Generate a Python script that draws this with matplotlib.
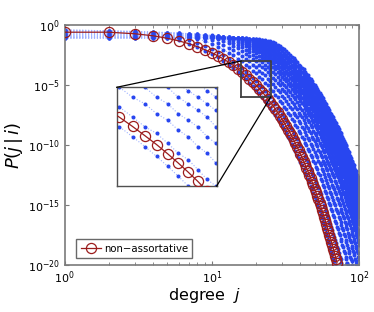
import matplotlib
matplotlib.use("Agg")
import matplotlib.pyplot as plt
from matplotlib.lines import Line2D

# ---- data (log10 of P(j|i)), j = 1, 2, 3, ... for each list ----
# non-assortative case
red_log = [-0.60, -0.60, -0.73, -0.90, -1.11, -1.33, -1.56, -1.81, -2.06, -2.31,
           -2.57, -2.83, -3.10, -3.37, -3.64, -3.91, -4.19, -4.47, -4.74, -5.02,
           -5.30, -5.58, -5.86, -6.15, -6.43, -6.71, -7.00, -7.28, -7.57, -7.86,
           -8.14, -8.43, -8.72, -9.00, -9.29, -9.58, -9.87, -10.16, -10.45, -10.74,
           -11.03, -11.32, -11.61, -11.90, -12.19, -12.49, -12.78, -13.07, -13.36, -13.65,
           -13.95, -14.24, -14.53, -14.82, -15.12, -15.41, -15.70, -16.00, -16.29, -16.58,
           -16.88, -17.17, -17.47, -17.76, -18.05, -18.35, -18.64, -18.94, -19.23, -19.53,
           -19.82]

# assortative family (one list per curve)
blue_s0 = [-0.40, -0.49, -0.62, -0.80, -1.02, -1.27, -1.55, -1.83, -2.13, -2.42, -2.7, -3.0, -3.3, -3.6, -3.9, -4.2, -4.5, -4.8, -5.1, -5.4, -5.7, -6.0, -6.3, -6.6, -6.9, -7.2, -7.5, -7.8, -8.1, -8.4, -8.7, -9.0, -9.3, -9.6, -9.9, -10.2, -10.5, -10.8, -11.1, -11.4, -11.7, -12.0, -12.3, -12.5, -12.8, -13.1, -13.4, -13.7, -14.0, -14.3, -14.6, -14.9, -15.2, -15.5, -15.8, -16.1, -16.4, -16.7, -17.0, -17.3, -17.6, -17.9, -18.2, -18.5, -18.8, -19.1, -19.4, -19.7, -20.0]
blue_s1 = [-0.43, -0.48, -0.56, -0.67, -0.83, -1.02, -1.24, -1.49, -1.74, -2.00, -2.27, -2.5, -2.8, -3.1, -3.3, -3.6, -3.9, -4.2, -4.4, -4.7, -5.0, -5.2, -5.5, -5.8, -6.0, -6.3, -6.6, -6.9, -7.1, -7.4, -7.7, -7.9, -8.2, -8.5, -8.7, -9.0, -9.3, -9.5, -9.8, -10.1, -10.4, -10.6, -10.9, -11.2, -11.4, -11.7, -12.0, -12.3, -12.5, -12.8, -13.1, -13.3, -13.6, -13.9, -14.1, -14.4, -14.7, -15.0, -15.2, -15.5, -15.8, -16.0, -16.3, -16.6, -16.8, -17.1, -17.4, -17.7, -17.9, -18.2, -18.5, -18.7, -19.0, -19.3, -19.5, -19.8, -20.1]
blue_s2 = [-0.47, -0.49, -0.53, -0.59, -0.67, -0.79, -0.95, -1.14, -1.35, -1.57, -1.81, -2.05, -2.30, -2.5, -2.8, -3.0, -3.3, -3.5, -3.8, -4.0, -4.3, -4.5, -4.8, -5.0, -5.3, -5.5, -5.8, -6.0, -6.3, -6.5, -6.8, -7.0, -7.3, -7.5, -7.8, -8.0, -8.3, -8.5, -8.8, -9.0, -9.3, -9.5, -9.8, -10.0, -10.3, -10.5, -10.8, -11.0, -11.3, -11.5, -11.8, -12.0, -12.3, -12.5, -12.8, -13.0, -13.3, -13.5, -13.8, -14.0, -14.3, -14.5, -14.8, -15.0, -15.3, -15.5, -15.8, -16.0, -16.3, -16.5, -16.8, -17.0, -17.3, -17.5, -17.8, -18.0, -18.3, -18.5, -18.8, -19.0, -19.3, -19.5, -19.8, -20.0]
blue_s3 = [-0.53, -0.54, -0.55, -0.58, -0.63, -0.69, -0.79, -0.92, -1.07, -1.25, -1.46, -1.67, -1.89, -2.12, -2.35, -2.58, -2.8, -3.0, -3.3, -3.5, -3.8, -4.0, -4.2, -4.5, -4.7, -4.9, -5.2, -5.4, -5.6, -5.9, -6.1, -6.3, -6.6, -6.8, -7.0, -7.3, -7.5, -7.7, -8.0, -8.2, -8.5, -8.7, -8.9, -9.2, -9.4, -9.6, -9.9, -10.1, -10.3, -10.6, -10.8, -11.0, -11.3, -11.5, -11.7, -12.0, -12.2, -12.4, -12.7, -12.9, -13.2, -13.4, -13.6, -13.9, -14.1, -14.3, -14.6, -14.8, -15.0, -15.3, -15.5, -15.7, -16.0, -16.2, -16.4, -16.7, -16.9, -17.1, -17.4, -17.6, -17.9, -18.1, -18.3, -18.6, -18.8, -19.0, -19.3, -19.5, -19.7, -20.0, -20.2]
blue_s4 = [-0.59, -0.59, -0.60, -0.61, -0.64, -0.67, -0.72, -0.79, -0.89, -1.02, -1.17, -1.35, -1.54, -1.74, -1.95, -2.17, -2.39, -2.60, -2.8, -3.0, -3.3, -3.5, -3.7, -3.9, -4.2, -4.4, -4.6, -4.8, -5.0, -5.3, -5.5, -5.7, -5.9, -6.2, -6.4, -6.6, -6.8, -7.0, -7.3, -7.5, -7.7, -7.9, -8.2, -8.4, -8.6, -8.8, -9.0, -9.3, -9.5, -9.7, -9.9, -10.1, -10.4, -10.6, -10.8, -11.0, -11.3, -11.5, -11.7, -11.9, -12.1, -12.4, -12.6, -12.8, -13.0, -13.3, -13.5, -13.7, -13.9, -14.1, -14.4, -14.6, -14.8, -15.0, -15.3, -15.5, -15.7, -15.9, -16.1, -16.4, -16.6, -16.8, -17.0, -17.3, -17.5, -17.7, -17.9, -18.1, -18.4, -18.6, -18.8, -19.0, -19.2, -19.5, -19.7, -19.9, -20.1]
blue_s5 = [-0.65, -0.66, -0.66, -0.67, -0.68, -0.70, -0.73, -0.77, -0.83, -0.91, -1.02, -1.15, -1.31, -1.48, -1.66, -1.86, -2.05, -2.26, -2.46, -2.67, -2.9, -3.1, -3.3, -3.5, -3.7, -3.9, -4.1, -4.3, -4.6, -4.8, -5.0, -5.2, -5.4, -5.6, -5.8, -6.0, -6.2, -6.4, -6.7, -6.9, -7.1, -7.3, -7.5, -7.7, -7.9, -8.1, -8.3, -8.5, -8.8, -9.0, -9.2, -9.4, -9.6, -9.8, -10.0, -10.2, -10.4, -10.6, -10.9, -11.1, -11.3, -11.5, -11.7, -11.9, -12.1, -12.3, -12.5, -12.7, -13.0, -13.2, -13.4, -13.6, -13.8, -14.0, -14.2, -14.4, -14.6, -14.8, -15.1, -15.3, -15.5, -15.7, -15.9, -16.1, -16.3, -16.5, -16.7, -16.9, -17.2, -17.4, -17.6, -17.8, -18.0, -18.2, -18.4, -18.6, -18.8, -19.0, -19.3, -19.5]
blue_s6 = [-0.72, -0.72, -0.73, -0.73, -0.74, -0.75, -0.76, -0.79, -0.82, -0.87, -0.94, -1.03, -1.15, -1.28, -1.43, -1.60, -1.78, -1.97, -2.16, -2.35, -2.55, -2.74, -2.9, -3.1, -3.3, -3.5, -3.7, -3.9, -4.1, -4.3, -4.5, -4.7, -4.9, -5.1, -5.3, -5.5, -5.7, -5.9, -6.1, -6.3, -6.5, -6.7, -6.9, -7.1, -7.3, -7.5, -7.7, -7.9, -8.1, -8.3, -8.5, -8.7, -8.9, -9.1, -9.3, -9.5, -9.7, -9.9, -10.1, -10.3, -10.5, -10.7, -10.9, -11.1, -11.3, -11.5, -11.7, -11.9, -12.1, -12.3, -12.5, -12.7, -12.9, -13.1, -13.3, -13.5, -13.7, -13.9, -14.1, -14.3, -14.5, -14.7, -14.9, -15.1, -15.3, -15.5, -15.7, -15.9, -16.1, -16.3, -16.5, -16.7, -16.9, -17.1, -17.3, -17.5, -17.7, -17.9, -18.1, -18.3]
blue_s7 = [-0.79, -0.79, -0.79, -0.80, -0.80, -0.81, -0.82, -0.83, -0.85, -0.88, -0.93, -0.98, -1.07, -1.16, -1.28, -1.42, -1.58, -1.74, -1.92, -2.10, -2.28, -2.47, -2.66, -2.85, -3.0, -3.2, -3.4, -3.6, -3.8, -4.0, -4.2, -4.4, -4.6, -4.8, -5.0, -5.1, -5.3, -5.5, -5.7, -5.9, -6.1, -6.3, -6.5, -6.7, -6.9, -7.1, -7.3, -7.5, -7.6, -7.8, -8.0, -8.2, -8.4, -8.6, -8.8, -9.0, -9.2, -9.4, -9.6, -9.8, -9.9, -10.1, -10.3, -10.5, -10.7, -10.9, -11.1, -11.3, -11.5, -11.7, -11.9, -12.1, -12.3, -12.4, -12.6, -12.8, -13.0, -13.2, -13.4, -13.6, -13.8, -14.0, -14.2, -14.4, -14.6, -14.7, -14.9, -15.1, -15.3, -15.5, -15.7, -15.9, -16.1, -16.3, -16.5, -16.7, -16.9, -17.1, -17.2, -17.4]
blue_s8 = [-0.85, -0.85, -0.85, -0.85, -0.86, -0.86, -0.87, -0.88, -0.89, -0.91, -0.93, -0.97, -1.02, -1.09, -1.18, -1.29, -1.41, -1.56, -1.71, -1.87, -2.05, -2.22, -2.40, -2.58, -2.77, -2.94, -3.1, -3.3, -3.5, -3.7, -3.9, -4.0, -4.2, -4.4, -4.6, -4.8, -5.0, -5.2, -5.3, -5.5, -5.7, -5.9, -6.1, -6.3, -6.5, -6.6, -6.8, -7.0, -7.2, -7.4, -7.6, -7.7, -7.9, -8.1, -8.3, -8.5, -8.7, -8.9, -9.0, -9.2, -9.4, -9.6, -9.8, -10.0, -10.2, -10.3, -10.5, -10.7, -10.9, -11.1, -11.3, -11.4, -11.6, -11.8, -12.0, -12.2, -12.4, -12.6, -12.7, -12.9, -13.1, -13.3, -13.5, -13.7, -13.9, -14.0, -14.2, -14.4, -14.6, -14.8, -15.0, -15.1, -15.3, -15.5, -15.7, -15.9, -16.1, -16.3, -16.4, -16.6]
blue_s9 = [-0.90, -0.90, -0.90, -0.90, -0.90, -0.91, -0.91, -0.92, -0.92, -0.94, -0.95, -0.98, -1.01, -1.06, -1.12, -1.20, -1.30, -1.42, -1.55, -1.70, -1.85, -2.02, -2.18, -2.36, -2.53, -2.71, -2.89, -3.1, -3.2, -3.4, -3.6, -3.8, -4.0, -4.1, -4.3, -4.5, -4.7, -4.9, -5.0, -5.2, -5.4, -5.6, -5.8, -5.9, -6.1, -6.3, -6.5, -6.7, -6.8, -7.0, -7.2, -7.4, -7.6, -7.7, -7.9, -8.1, -8.3, -8.5, -8.6, -8.8, -9.0, -9.2, -9.4, -9.5, -9.7, -9.9, -10.1, -10.3, -10.4, -10.6, -10.8, -11.0, -11.2, -11.3, -11.5, -11.7, -11.9, -12.1, -12.2, -12.4, -12.6, -12.8, -13.0, -13.1, -13.3, -13.5, -13.7, -13.9, -14.0, -14.2, -14.4, -14.6, -14.8, -14.9, -15.1, -15.3, -15.5, -15.7, -15.8, -16.0]
blue_s10 = [-0.95, -0.95, -0.95, -0.95, -0.95, -0.95, -0.96, -0.96, -0.97, -0.97, -0.98, -1.00, -1.02, -1.05, -1.10, -1.15, -1.23, -1.32, -1.43, -1.55, -1.69, -1.83, -1.99, -2.15, -2.32, -2.48, -2.66, -2.83, -3.00, -3.2, -3.3, -3.5, -3.7, -3.9, -4.0, -4.2, -4.4, -4.6, -4.7, -4.9, -5.1, -5.3, -5.4, -5.6, -5.8, -6.0, -6.1, -6.3, -6.5, -6.7, -6.8, -7.0, -7.2, -7.4, -7.5, -7.7, -7.9, -8.1, -8.2, -8.4, -8.6, -8.8, -8.9, -9.1, -9.3, -9.5, -9.6, -9.8, -10.0, -10.2, -10.3, -10.5, -10.7, -10.9, -11.0, -11.2, -11.4, -11.6, -11.7, -11.9, -12.1, -12.3, -12.4, -12.6, -12.8, -13.0, -13.1, -13.3, -13.5, -13.7, -13.8, -14.0, -14.2, -14.4, -14.5, -14.7, -14.9, -15.1, -15.2, -15.4]
blue_s11 = [-0.99, -0.99, -0.99, -0.99, -0.99, -0.99, -0.99, -1.00, -1.00, -1.00, -1.01, -1.02, -1.04, -1.06, -1.08, -1.12, -1.18, -1.24, -1.33, -1.43, -1.54, -1.67, -1.81, -1.96, -2.12, -2.28, -2.45, -2.61, -2.78, -2.95, -3.11, -3.3, -3.5, -3.6, -3.8, -4.0, -4.1, -4.3, -4.5, -4.6, -4.8, -5.0, -5.2, -5.3, -5.5, -5.7, -5.8, -6.0, -6.2, -6.4, -6.5, -6.7, -6.9, -7.0, -7.2, -7.4, -7.6, -7.7, -7.9, -8.1, -8.2, -8.4, -8.6, -8.8, -8.9, -9.1, -9.3, -9.4, -9.6, -9.8, -10.0, -10.1, -10.3, -10.5, -10.6, -10.8, -11.0, -11.1, -11.3, -11.5, -11.7, -11.8, -12.0, -12.2, -12.3, -12.5, -12.7, -12.9, -13.0, -13.2, -13.4, -13.5, -13.7, -13.9, -14.1, -14.2, -14.4, -14.6, -14.7, -14.9]
blue_s12 = [-1.03, -1.03, -1.03, -1.03, -1.03, -1.03, -1.03, -1.03, -1.04, -1.04, -1.04, -1.05, -1.06, -1.07, -1.09, -1.11, -1.15, -1.19, -1.25, -1.33, -1.42, -1.53, -1.65, -1.78, -1.93, -2.08, -2.24, -2.39, -2.55, -2.72, -2.89, -3.05, -3.2, -3.4, -3.5, -3.7, -3.9, -4.1, -4.2, -4.4, -4.6, -4.7, -4.9, -5.1, -5.2, -5.4, -5.6, -5.7, -5.9, -6.1, -6.2, -6.4, -6.6, -6.7, -6.9, -7.1, -7.2, -7.4, -7.6, -7.7, -7.9, -8.1, -8.3, -8.4, -8.6, -8.8, -8.9, -9.1, -9.3, -9.4, -9.6, -9.8, -9.9, -10.1, -10.3, -10.4, -10.6, -10.8, -10.9, -11.1, -11.3, -11.4, -11.6, -11.8, -11.9, -12.1, -12.3, -12.5, -12.6, -12.8, -13.0, -13.1, -13.3, -13.5, -13.6, -13.8, -14.0, -14.1, -14.3, -14.5]
blue_s13 = [-1.06, -1.06, -1.06, -1.06, -1.06, -1.06, -1.06, -1.06, -1.06, -1.07, -1.07, -1.07, -1.08, -1.08, -1.09, -1.11, -1.13, -1.16, -1.20, -1.25, -1.31, -1.40, -1.49, -1.61, -1.73, -1.86, -2.00, -2.15, -2.31, -2.47, -2.62, -2.79, -2.95, -3.11, -3.3, -3.4, -3.6, -3.8, -3.9, -4.1, -4.3, -4.4, -4.6, -4.8, -4.9, -5.1, -5.3, -5.4, -5.6, -5.7, -5.9, -6.1, -6.2, -6.4, -6.6, -6.7, -6.9, -7.1, -7.2, -7.4, -7.6, -7.7, -7.9, -8.1, -8.2, -8.4, -8.6, -8.7, -8.9, -9.0, -9.2, -9.4, -9.5, -9.7, -9.9, -10.0, -10.2, -10.4, -10.5, -10.7, -10.9, -11.0, -11.2, -11.4, -11.5, -11.7, -11.9, -12.0, -12.2, -12.3, -12.5, -12.7, -12.8, -13.0, -13.2, -13.3, -13.5, -13.7, -13.8, -14.0]
blue_s14 = [-1.08, -1.08, -1.08, -1.08, -1.08, -1.08, -1.08, -1.08, -1.08, -1.08, -1.08, -1.09, -1.09, -1.09, -1.10, -1.11, -1.12, -1.14, -1.16, -1.19, -1.23, -1.28, -1.35, -1.43, -1.53, -1.64, -1.76, -1.90, -2.04, -2.19, -2.34, -2.49, -2.65, -2.81, -2.97, -3.12, -3.3, -3.4, -3.6, -3.8, -3.9, -4.1, -4.3, -4.4, -4.6, -4.7, -4.9, -5.1, -5.2, -5.4, -5.6, -5.7, -5.9, -6.0, -6.2, -6.4, -6.5, -6.7, -6.8, -7.0, -7.2, -7.3, -7.5, -7.7, -7.8, -8.0, -8.1, -8.3, -8.5, -8.6, -8.8, -9.0, -9.1, -9.3, -9.4, -9.6, -9.8, -9.9, -10.1, -10.2, -10.4, -10.6, -10.7, -10.9, -11.1, -11.2, -11.4, -11.5, -11.7, -11.9, -12.0, -12.2, -12.4, -12.5, -12.7, -12.8, -13.0, -13.2, -13.3, -13.5]
blue_s15 = [-1.10, -1.10, -1.10, -1.10, -1.10, -1.10, -1.10, -1.10, -1.10, -1.10, -1.10, -1.10, -1.10, -1.11, -1.11, -1.11, -1.12, -1.13, -1.14, -1.15, -1.18, -1.21, -1.25, -1.30, -1.36, -1.44, -1.54, -1.65, -1.77, -1.90, -2.03, -2.18, -2.33, -2.48, -2.63, -2.79, -2.95, -3.10, -3.3, -3.4, -3.6, -3.7, -3.9, -4.1, -4.2, -4.4, -4.5, -4.7, -4.9, -5.0, -5.2, -5.3, -5.5, -5.7, -5.8, -6.0, -6.1, -6.3, -6.5, -6.6, -6.8, -6.9, -7.1, -7.3, -7.4, -7.6, -7.7, -7.9, -8.1, -8.2, -8.4, -8.5, -8.7, -8.9, -9.0, -9.2, -9.3, -9.5, -9.7, -9.8, -10.0, -10.1, -10.3, -10.5, -10.6, -10.8, -10.9, -11.1, -11.3, -11.4, -11.6, -11.7, -11.9, -12.1, -12.2, -12.4, -12.5, -12.7, -12.9, -13.0]
blue_family = [blue_s0, blue_s1, blue_s2, blue_s3, blue_s4, blue_s5, blue_s6, blue_s7,
               blue_s8, blue_s9, blue_s10, blue_s11, blue_s12, blue_s13, blue_s14, blue_s15]

legend_label = "non\u2212assortative"
yticks = [1e-20, 1e-15, 1e-10, 1e-5, 1e0]

RED = "#9b1c1c"
BLUE = "#2846f0"
LBLUE = "#9fb2ff"
GRAY = "#7a7a7a"

fig = plt.figure(figsize=(3.74, 3.12), dpi=100)
W, H = 374, 312
ax = fig.add_axes([64.5 / W, 1 - 265 / H, 294.5 / W, 240 / H])


def draw(a):
    for serie in blue_family:
        jj = list(range(1, len(serie) + 1))
        a.plot(jj, [10 ** v for v in serie], linestyle=':', color=LBLUE, lw=0.8, zorder=1)
        a.plot(jj, [10 ** v for v in serie], linestyle='none', marker='o', ms=2.9,
               mfc=BLUE, mec=BLUE, mew=0, zorder=2)
    jr = list(range(1, len(red_log) + 1))
    return a.plot(jr, [10 ** v for v in red_log], '-', color=RED, lw=0.9, marker='o',
                  mfc='none', mec=RED, ms=7.3, mew=0.9, label=legend_label, zorder=3)


draw(ax)
ax.set_xscale('log')
ax.set_yscale('log')
ax.set_xlim(1, 100)
ax.set_ylim(1e-20, 1)
ax.set_yticks(yticks)
ax.yaxis.set_minor_locator(matplotlib.ticker.NullLocator())
for s in ax.spines.values():
    s.set_color(GRAY)
    s.set_linewidth(1.2)
ax.tick_params(which='both', direction='in', top=True, right=True, color=GRAY,
               labelsize=8, labelcolor='black')
ax.tick_params(which='major', length=3)
ax.tick_params(which='minor', length=2)
ax.set_xlabel(r"degree  $j$", fontsize=11.5)
ax.xaxis.set_label_coords(0.477, -0.086)
ax.set_ylabel(r"$P(j\,|\,i)$", fontsize=13, labelpad=2)

leg = ax.legend(loc='lower left', bbox_to_anchor=(0.04, 0.03), fontsize=7.3,
                frameon=True, fancybox=False, handlelength=2.0, borderpad=0.42,
                handletextpad=0.3, borderaxespad=0.0)
leg.get_frame().set_edgecolor('#444444')
leg.get_frame().set_linewidth(1.0)

# zoom box in main axes
bx0, bx1, by0, by1 = 15.8, 25.1, 1e-6, 1e-3
ax.plot([bx0, bx1, bx1, bx0, bx0], [by0, by0, by1, by1, by0], color='#404040', lw=1.3, zorder=4)

# inset
ins = fig.add_axes([116.7 / W, 1 - 186 / H, 100 / W, 98.7 / H])
draw(ins)
ins.set_xscale('log'); ins.set_yscale('log')
ins.set_xlim(bx0, bx1); ins.set_ylim(by0, by1)
ins.set_xticks([]); ins.set_yticks([])
ins.minorticks_off()
for s in ins.spines.values():
    s.set_color('#505050'); s.set_linewidth(1.0)

fig.add_artist(Line2D([116.7 / W, 241 / W], [1 - 87.3 / H, 1 - 61 / H], color='black', lw=0.9))
fig.add_artist(Line2D([216.7 / W, 270.7 / W], [1 - 186 / H, 1 - 97 / H], color='black', lw=0.9))

fig.savefig("out.png", dpi=100)
